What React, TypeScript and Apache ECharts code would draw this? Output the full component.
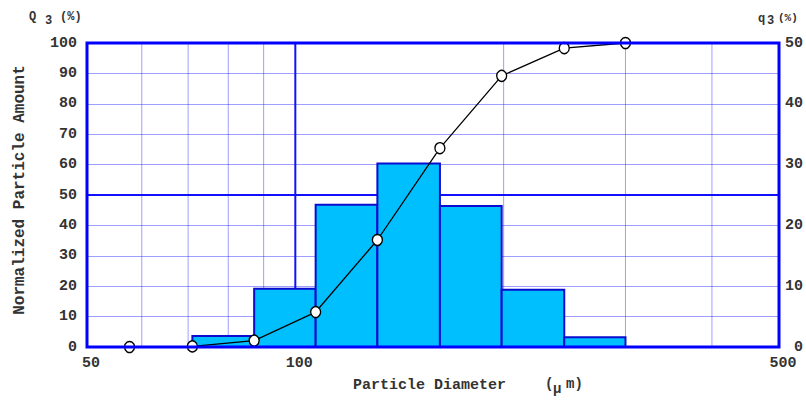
import React, { useEffect, useRef } from "react";
import * as echarts from "echarts";

// Sieve class boundaries (µm) and the frequency q3 (%) of each class
const binEdges = [71.0, 87.2, 107.0, 131.4, 161.8, 198.7, 244.7, 300];
const q3Values = [1.8, 9.6, 23.4, 30.2, 23.2, 9.4, 1.6];

// Cumulative undersize Q3 (%) at each boundary
const sizePoints = [57.6, 71.0, 87.2, 107.0, 131.4, 161.8, 198.7, 244.7, 300];
const cumulativeQ3 = [0, 0.2, 2.1, 11.5, 35.2, 65.4, 89.2, 98.3, 100];

// Grid lines on the diameter axis
const minorDiameters = [60, 70, 80, 90, 200, 300, 400];
const majorDiameters = [100];
// Heavy horizontal rule on the Q3 axis
const majorLevels = [50];

const xMin = 50;
const xMax = 500;

const monoFont = '"Liberation Mono", "DejaVu Sans Mono", monospace';
const textColor = "#333";
const frameBlue = "#0000ff";

export default function App() {
  const ref = useRef<HTMLDivElement>(null);

  useEffect(() => {
    if (!ref.current) return;
    const chart = echarts.init(ref.current, undefined, { renderer: "svg" });

    const labelStyle = {
      fontFamily: monoFont,
      fontSize: 15,
      fontWeight: "bold" as const,
      color: textColor,
    };

    chart.setOption({
      animation: false,
      backgroundColor: "#fff",
      grid: {
        left: 87,
        top: 43,
        width: 695,
        height: 304,
        show: true,
        borderColor: frameBlue,
        borderWidth: 3,
        backgroundColor: "transparent",
        z: 10,
      },
      xAxis: {
        type: "log",
        logBase: 10,
        min: xMin,
        max: xMax,
        axisLine: { show: false },
        axisTick: { show: false },
        splitLine: { show: false },
        axisLabel: {
          ...labelStyle,
          margin: 9,
          padding: [0, 0, 0, 8],
          showMinLabel: true,
          showMaxLabel: true,
        },
      },
      yAxis: [
        {
          type: "value",
          min: 0,
          max: 100,
          interval: 10,
          axisLine: { show: false },
          axisTick: { show: false },
          axisLabel: { ...labelStyle, margin: 10 },
          splitLine: {
            show: true,
            lineStyle: { color: "rgba(40,40,255,0.45)", width: 1 },
          },
        },
        {
          type: "value",
          min: 0,
          max: 50,
          interval: 10,
          position: "right",
          axisLine: { show: false },
          axisTick: { show: false },
          splitLine: { show: false },
          axisLabel: { ...labelStyle, margin: 24, align: "right" },
        },
      ],
      graphic: [
        {
          type: "text",
          x: 29,
          y: 11,
          style: { text: "Q", font: `bold 12px ${monoFont}`, fill: textColor },
        },
        {
          type: "text",
          x: 45,
          y: 15,
          style: { text: "3", font: `bold 12px ${monoFont}`, fill: textColor },
        },
        {
          type: "text",
          x: 60,
          y: 11,
          style: { text: "(%)", font: `bold 12px ${monoFont}`, fill: textColor },
        },
        {
          type: "text",
          x: 758,
          y: 13,
          style: { text: "q", font: `bold 12px ${monoFont}`, fill: textColor },
        },
        {
          type: "text",
          x: 767,
          y: 15,
          style: { text: "3", font: `bold 12px ${monoFont}`, fill: textColor },
        },
        {
          type: "text",
          x: 778,
          y: 12,
          style: { text: "(%)", font: `bold 11px ${monoFont}`, fill: textColor },
        },
        {
          type: "text",
          x: 20,
          y: 190,
          rotation: Math.PI / 2,
          style: {
            text: "Normalized Particle Amount",
            font: `bold 16px ${monoFont}`,
            fill: textColor,
            align: "center",
            verticalAlign: "middle",
          },
        },
        {
          type: "text",
          x: 353,
          y: 385,
          style: {
            text: "Particle Diameter",
            font: `bold 15px ${monoFont}`,
            fill: textColor,
            verticalAlign: "middle",
          },
        },
        {
          type: "text",
          x: 545,
          y: 384,
          style: {
            text: "(",
            font: `bold 14px ${monoFont}`,
            fill: textColor,
            verticalAlign: "middle",
          },
        },
        {
          type: "text",
          x: 553,
          y: 389,
          style: {
            text: "μ",
            font: `bold 14px ${monoFont}`,
            fill: textColor,
            verticalAlign: "middle",
          },
        },
        {
          type: "text",
          x: 566,
          y: 384,
          style: {
            text: "m)",
            font: `bold 14px ${monoFont}`,
            fill: textColor,
            verticalAlign: "middle",
          },
        },
      ],
      series: [
        {
          name: "minor grid",
          type: "custom",
          z: 1,
          silent: true,
          xAxisIndex: 0,
          yAxisIndex: 0,
          data: minorDiameters.map((d) => [d, 0]),
          encode: { x: 0, y: 1 },
          renderItem: (params: any, api: any) => {
            const p = api.coord([api.value(0), 0]);
            const cs = params.coordSys;
            return {
              type: "line",
              shape: { x1: p[0], y1: cs.y, x2: p[0], y2: cs.y + cs.height },
              style: { stroke: "rgba(40,40,255,0.45)", lineWidth: 1 },
            };
          },
        },
        {
          name: "major grid x",
          type: "custom",
          z: 1,
          silent: true,
          xAxisIndex: 0,
          yAxisIndex: 0,
          data: majorDiameters.map((d) => [d, 0]),
          encode: { x: 0, y: 1 },
          renderItem: (params: any, api: any) => {
            const p = api.coord([api.value(0), 0]);
            const cs = params.coordSys;
            return {
              type: "line",
              shape: { x1: p[0], y1: cs.y, x2: p[0], y2: cs.y + cs.height },
              style: { stroke: "#1010ff", lineWidth: 2 },
            };
          },
        },
        {
          name: "major grid y",
          type: "custom",
          z: 1,
          silent: true,
          xAxisIndex: 0,
          yAxisIndex: 0,
          data: majorLevels.map((v) => [xMin, v]),
          encode: { x: 0, y: 1 },
          renderItem: (params: any, api: any) => {
            const p = api.coord([api.value(0), api.value(1)]);
            const cs = params.coordSys;
            return {
              type: "line",
              shape: { x1: cs.x, y1: p[1], x2: cs.x + cs.width, y2: p[1] },
              style: { stroke: "#1010ff", lineWidth: 2 },
            };
          },
        },
        {
          name: "q3",
          type: "custom",
          z: 2,
          xAxisIndex: 0,
          yAxisIndex: 1,
          data: q3Values.map((q, i) => [binEdges[i], binEdges[i + 1], q]),
          encode: { x: [0, 1], y: 2 },
          renderItem: (_params: any, api: any) => {
            const p0 = api.coord([api.value(0), 0]);
            const p1 = api.coord([api.value(1), api.value(2)]);
            return {
              type: "rect",
              shape: {
                x: p0[0],
                y: p1[1],
                width: p1[0] - p0[0],
                height: p0[1] - p1[1],
              },
              style: { fill: "#00bfff", stroke: "#0c0cd0", lineWidth: 2 },
            };
          },
        },
        {
          name: "Q3",
          type: "line",
          z: 3,
          xAxisIndex: 0,
          yAxisIndex: 0,
          data: sizePoints.map((d, i) => [d, cumulativeQ3[i]]),
          symbol: "circle",
          symbolSize: [10, 11],
          showAllSymbol: true,
          lineStyle: { color: "#000", width: 1.3 },
          itemStyle: { color: "#fff", borderColor: "#000", borderWidth: 1.4 },
        },
      ],
    });

    return () => chart.dispose();
  }, []);

  return (
    <div
      ref={ref}
      style={{ position: "fixed", left: 0, top: 0, width: 806, height: 400 }}
    />
  );
}
